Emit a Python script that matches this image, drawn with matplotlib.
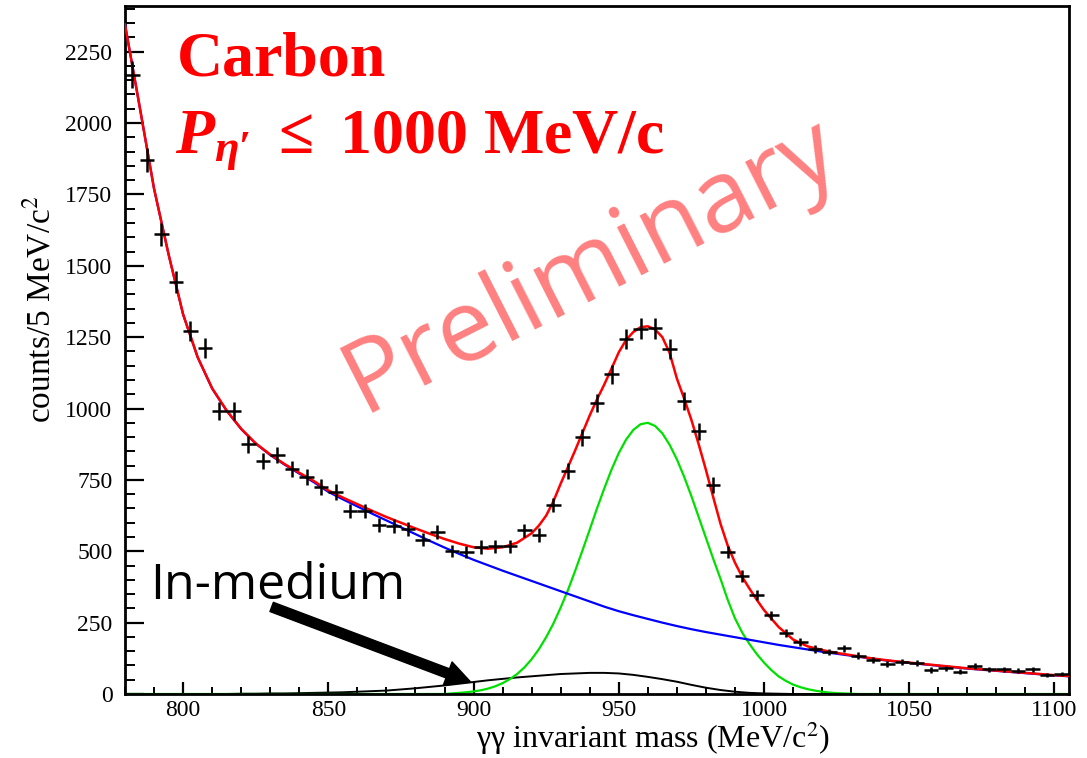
import numpy as np
import matplotlib
matplotlib.use("Agg")
import matplotlib.pyplot as plt
from matplotlib.ticker import MultipleLocator

plt.rcParams['font.family'] = ['Liberation Serif', 'DejaVu Serif']
plt.rcParams['mathtext.rm'] = 'Liberation Serif:bold'
plt.rcParams['mathtext.it'] = 'Liberation Serif:italic:bold'
plt.rcParams['mathtext.bf'] = 'Liberation Serif:bold'

# measured spectrum, 5 MeV bins
bin_centers = np.arange(782.5, 1105.0, 5.0)
counts = [2170, 1870, 1610, 1442, 1271, 1211, 991, 991, 875, 816,
          837, 788, 760, 725, 707, 641, 641, 592, 588, 578,
          540, 568, 501, 497, 515, 518, 518, 573, 556, 662,
          781, 900, 1019, 1120, 1243, 1280, 1281, 1208, 1026, 921,
          732, 497, 413, 347, 275, 213, 183, 157, 147, 160,
          134, 118, 105, 112, 108, 84, 90, 78, 98, 87,
          87, 81, 87, 66, 70]
errors = [47, 43, 40, 38, 36, 35, 31, 31, 30, 29,
          29, 28, 28, 27, 27, 25, 25, 24, 24, 24,
          23, 24, 22, 22, 23, 23, 23, 24, 24, 26,
          28, 30, 32, 33, 35, 36, 36, 35, 32, 30,
          27, 22, 20, 19, 17, 15, 14, 13, 12, 13,
          12, 11, 10, 11, 10, 9, 9, 9, 10, 9,
          9, 9, 9, 8, 8]

# fit curves (5 MeV steps, 2.5 MeV around the peak)
curve_x = np.arange(780.0, 1106.0, 5.0)
total_x = np.r_[np.arange(780.0, 920.0, 5.0), np.arange(920.0, 1002.0, 2.5),
                np.arange(1005.0, 1106.0, 5.0)]
total_fit = [2345, 2060, 1770, 1540, 1330, 1180, 1071, 993, 929, 878,
             839, 805, 775, 746, 713, 688, 665, 642, 620, 600,
             580, 561, 543, 527, 514, 509, 514, 530,
             563, 590, 625, 675, 737, 795, 854, 915, 976, 1032,
             1084, 1140, 1197, 1240, 1268, 1285, 1288, 1277, 1250, 1195,
             1105, 1035, 960, 875, 785, 690, 597, 520, 460, 410,
             369, 330, 294,
             235, 191, 167, 154, 144, 136, 128, 121, 115, 110,
             105, 100, 95, 90, 86, 82, 78, 74, 70, 66, 63]
background = [2345, 2060, 1770, 1540, 1330, 1180, 1070, 992, 928, 877,
              837, 803, 772, 742, 708, 682, 657, 632, 608, 584,
              560, 536, 513, 491, 470, 451, 432, 414, 396, 378,
              360, 342, 324, 306, 290, 276, 263, 250, 238, 227,
              217, 208, 199, 190, 181, 172, 164, 156, 148, 141,
              134, 127, 120, 114, 109, 104, 99, 94, 89, 85,
              81, 77, 73, 69, 65, 62]
signal_x = np.r_[np.arange(780.0, 895.0, 5.0), np.arange(895.0, 1033.0, 2.5),
                 np.arange(1035.0, 1106.0, 5.0)]
signal = [0] * 23 + [4, 6, 9, 13, 19, 27, 38, 52, 70, 93,
                     122, 157, 199, 247, 303, 364, 432, 503, 576, 650,
                     720, 786, 844, 891, 925, 945, 950, 939, 913, 873,
                     822, 761, 693, 620, 547, 474, 404, 330, 265, 215,
                     175, 140, 110, 84, 62, 46, 33, 24, 17, 12,
                     8, 5, 3, 2, 1, 0] + [0] * 15
in_medium = [0, 0, 0, 0, 0, 0, 0, 0, 1, 1,
             2, 2, 3, 4, 5, 6, 8, 10, 12, 16,
             20, 25, 30, 36, 42, 48, 53, 58, 62, 66,
             70, 72, 74, 74, 72, 67, 60, 52, 43, 32,
             22, 14, 8, 4, 2, 1, 0, 0, 0, 0,
             0, 0, 0, 0, 0, 0, 0, 0, 0, 0,
             0, 0, 0, 0, 0, 0]

fig = plt.figure(figsize=(10.87, 7.58), dpi=100)
ax = fig.add_axes([125/1087, 1 - 694/758, 944/1087, 688/758])

ax.plot(curve_x, in_medium, color='black', lw=1.4, zorder=2)
ax.plot(signal_x, signal, color='#00e000', lw=1.6, zorder=2)
ax.plot(curve_x, background, color='#0000ff', lw=1.6, zorder=3)
ax.plot(total_x, total_fit, color='#ff0000', lw=1.8, zorder=4)
ax.errorbar(bin_centers, counts, yerr=errors, xerr=2.5, fmt='none',
            ecolor='black', elinewidth=1.8, capsize=0, zorder=5)

ax.set_xlim(780, 1105)
ax.set_ylim(0, 2410)
ax.xaxis.set_major_locator(MultipleLocator(50))
ax.xaxis.set_minor_locator(MultipleLocator(10))
ax.yaxis.set_major_locator(MultipleLocator(250))
ax.yaxis.set_minor_locator(MultipleLocator(50))
ax.tick_params(axis='x', which='major', direction='in', length=9, width=1.6,
               pad=4, labelsize=17)
ax.tick_params(axis='x', which='minor', direction='in', length=5, width=1.4)
ax.tick_params(axis='y', which='major', direction='in', length=14, width=1.6,
               pad=9, labelsize=17)
ax.tick_params(axis='y', which='minor', direction='in', length=7, width=1.4)
for s in ax.spines.values():
    s.set_linewidth(2)

ax.set_xlabel("γγ invariant mass (MeV/c$^2$)", fontsize=23, math_fontfamily='stix')
ax.xaxis.set_label_coords(0.559, -0.0785)
ax.xaxis.label.set_va('baseline')
ax.set_ylabel("counts/5 MeV/c$^2$", fontsize=24, math_fontfamily='stix')
ax.yaxis.set_label_coords(-0.0794, 0.5596)
ax.yaxis.label.set_va('baseline')

fig.text(0.1628, 0.901, "Carbon", fontsize=46, weight='bold', color='#ff0000',
         va='baseline')
fig.text(0.161, 0.7995, r"$P_{\eta\prime}$ $\leq$ 1000 MeV/c", fontsize=46,
         weight='bold', color='#ff0000', va='baseline', math_fontfamily='custom')

fig.text(0.3330, 0.4551, "Preliminary", fontsize=73, color='#ff8080',
         family='Open Sans', rotation=27, rotation_mode='anchor',
         ha='left', va='baseline')

fig.text(0.138, 0.2098, "In-medium", fontsize=36, family='Open Sans',
         va='baseline')
ax.annotate("", xy=(899, 42), xytext=(830.5, 305),
            arrowprops=dict(arrowstyle="simple,head_length=0.8,head_width=0.8,tail_width=0.32",
                            color='black', mutation_scale=22, shrinkA=0, shrinkB=0))

fig.savefig("out.png", dpi=100)
